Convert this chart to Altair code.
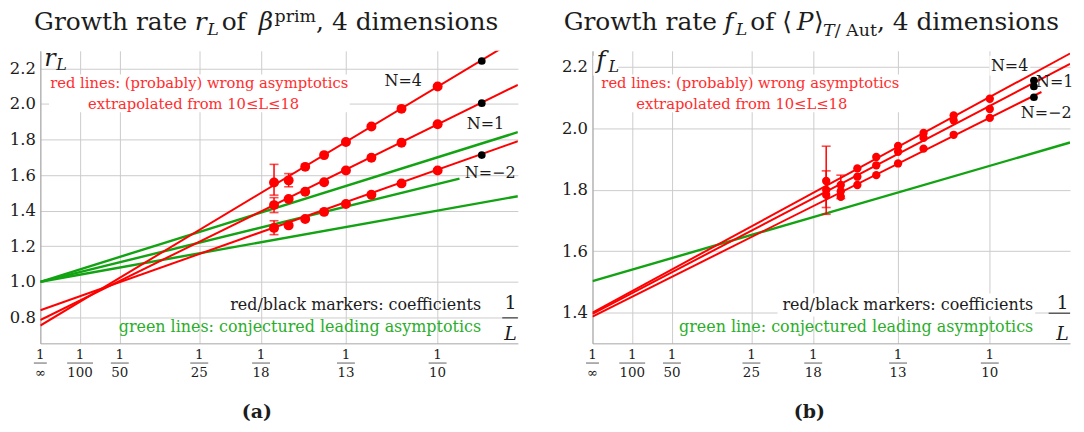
import math
import altair as alt
import pandas as pd

FONT = "DejaVu Serif"
RED = "#ff0000"
GREEN = "#12a312"
GREEN_TXT = "#2aae2a"
RED_TXT = "#ff2d2d"
INK = "#1c1c1c"
GRID = "#cccccc"
AXIS_C = "#a6a6a6"

W, H = 480, 294
X_MAX = 0.1202

# ---------------- data ----------------
TICK_L = [math.inf, 100, 50, 25, 18, 13, 10]
TICK_DEN = ["∞", "100", "50", "25", "18", "13", "10"]

L_RED = [17, 16, 15, 14, 13, 12, 11, 10]
L_BLACK = 9
SERIES = ["N=4", "N=1", "N=−2"]

# panel (a): growth rate r_L
A_N4 = [1.558, 1.570, 1.646, 1.712, 1.786, 1.873, 1.972, 2.098]
A_N1 = [1.431, 1.465, 1.506, 1.559, 1.625, 1.697, 1.782, 1.886]
A_NM2 = [1.303, 1.317, 1.353, 1.393, 1.437, 1.489, 1.553, 1.626]
A_BLACK = [2.241, 2.004, 1.712]
A_ERR_L = [17, 17, 17, 16]
A_ERR_LO = [1.487, 1.389, 1.265, 1.534]
A_ERR_HI = [1.660, 1.473, 1.343, 1.608]
A_FIT_Y0 = [0.754, 0.785, 0.840]
A_FIT_X1 = [X_MAX, X_MAX, X_MAX]
A_FIT_Y1 = [2.368, 2.107, 1.790]
A_GREEN_Y0 = [1.0, 1.0, 1.0]
A_GREEN_X1 = [X_MAX, 0.1055, X_MAX]
A_GREEN_Y1 = [1.841, 1.580, 1.481]
A_YTICKS = [0.8, 1.0, 1.2, 1.4, 1.6, 1.8, 2.0, 2.2]
A_YDOM = [0.654, 2.298]

# panel (b): growth rate f_L
B_N4 = [1.828, 1.815, 1.869, 1.906, 1.942, 1.984, 2.041, 2.095]
B_N1 = [1.799, 1.795, 1.842, 1.879, 1.923, 1.968, 2.025, 2.062]
B_NM2 = [1.783, 1.777, 1.815, 1.847, 1.885, 1.933, 1.978, 2.033]
B_BLACK = [2.154, 2.135, 2.100]
B_ERR_L = [17, 17, 16]
B_ERR_LO = [1.720, 1.742, 1.771]
B_ERR_HI = [1.941, 1.861, 1.847]
B_FIT_Y0 = [1.401, 1.397, 1.388]
B_FIT_X1 = [X_MAX, X_MAX, 0.113]
B_FIT_Y1 = [2.242, 2.208, 2.117]
B_GREEN_Y0 = [1.503]
B_GREEN_X1 = [X_MAX]
B_GREEN_Y1 = [1.953]
B_YTICKS = [1.4, 1.6, 1.8, 2.0, 2.2]
B_YDOM = [1.301, 2.2506]

# ------------- text width estimate (DejaVu Serif metrics) -------------
NORMAL_W = {' ': .318, ',': .318, '.': .318, '/': .337, '4': .636, 'G': .775, 'A': .722,
            'a': .596, 'd': .640, 'e': .592, 'f': .370, 'h': .644, 'i': .320, 'm': .948,
            'n': .644, 'o': .602, 'p': .640, 'r': .478, 's': .513, 't': .402, 'u': .644,
            'w': .856, '⟨': .30, '⟩': .36}
ITALIC_W = {'r': .50, 'L': .66, 'f': .46, 'T': .668, 'P': .70, 'β': .64}


def est_w(t, size, italic):
    table = ITALIC_W if italic else NORMAL_W
    return sum(table.get(c, .6) for c in t) * size


def ptext(t, px, py, size, color=INK, align="center", baseline="middle",
          style="normal", weight="normal"):
    return alt.Chart(pd.DataFrame({"t": [t]})).mark_text(
        font=FONT, fontSize=size, color=color, align=align, baseline=baseline,
        fontStyle=style, fontWeight=weight
    ).encode(text="t:N", x=alt.value(px), y=alt.value(py))


def prect(x0, x1, y0, y1):
    return alt.Chart(pd.DataFrame({"k": [0]})).mark_rect(color="white").encode(
        x=alt.value(x0), x2=alt.value(x1), y=alt.value(y0), y2=alt.value(y1))


def rich(pieces, center_x, base_y):
    widths = [est_w(t, s, it) + extra for t, s, it, dy, extra in pieces]
    x = center_x - sum(widths) / 2
    out = []
    for (t, s, it, dy, extra), w in zip(pieces, widths):
        out.append(ptext(t, x, base_y + dy, s, align="left", baseline="alphabetic",
                         style="italic" if it else "normal"))
        x += w
    return out


def pts_frame(series_vals):
    rows = []
    for name, vals in zip(SERIES, series_vals):
        for L, v in zip(L_RED, vals):
            rows.append({"x": 1.0 / L, "y": v, "s": name})
    return pd.DataFrame(rows)


def seg_frame(y0, x1, y1):
    rows = []
    for i, (a, b, c) in enumerate(zip(y0, x1, y1)):
        rows.append({"x": 0.0, "y": a, "s": i, "o": 0})
        rows.append({"x": b, "y": c, "s": i, "o": 1})
    return pd.DataFrame(rows)


def panel(cfg):
    X = alt.X("x:Q", scale=alt.Scale(domain=[0, X_MAX], nice=False, zero=False),
              axis=alt.Axis(values=[1.0 / v for v in TICK_L], labels=False, ticks=False,
                            title=None, grid=True, gridColor=GRID, domainColor=AXIS_C))
    Y = alt.Y("y:Q", scale=alt.Scale(domain=cfg["ydom"], nice=False, zero=False),
              axis=alt.Axis(values=cfg["yticks"], format=".1f", ticks=False, title=None,
                            grid=True, gridColor=GRID, domainColor=AXIS_C))
    layers = [prect(*r) for r in cfg["boxes"]]

    green = seg_frame(cfg["g0"], cfg["gx1"], cfg["gy1"])
    layers.append(alt.Chart(green).mark_line(color=GREEN, strokeWidth=2.4, clip=True)
                  .encode(x=X, y=Y, detail="s:N", order="o:Q"))
    fits = seg_frame(cfg["f0"], cfg["fx1"], cfg["fy1"])
    layers.append(alt.Chart(fits).mark_line(color=RED, strokeWidth=2, clip=True)
                  .encode(x=X, y=Y, detail="s:N", order="o:Q"))

    err = pd.DataFrame({"x": [1.0 / L for L in cfg["eL"]], "y": cfg["elo"], "y2": cfg["ehi"]})
    layers.append(alt.Chart(err).mark_rule(color=RED, strokeWidth=1.5)
                  .encode(x=X, y=Y, y2="y2:Q"))
    caps = pd.DataFrame({"x": [1.0 / L for L in cfg["eL"]] * 2, "y": cfg["elo"] + cfg["ehi"]})
    layers.append(alt.Chart(caps).mark_tick(color=RED, orient="horizontal", thickness=1.6, size=9)
                  .encode(x=X, y=Y))

    layers.append(alt.Chart(pts_frame(cfg["pts"])).mark_circle(color=RED, opacity=1, size=cfg["psize"])
                  .encode(x=X, y=Y, detail="s:N"))
    blk = pd.DataFrame({"x": [1.0 / L_BLACK] * 3, "y": cfg["black"], "s": SERIES})
    layers.append(alt.Chart(blk).mark_circle(color="black", opacity=1, size=60)
                  .encode(x=X, y=Y))

    # fraction tick labels 1/L
    fr = pd.DataFrame({"x": [1.0 / v for v in TICK_L], "den": TICK_DEN,
                       "barw": [13 if d == "∞" else 8 * len(d) + 2 for d in TICK_DEN],
                       "fs": [13 if d == "∞" else 13.5 for d in TICK_DEN]})
    layers.append(alt.Chart(fr).mark_text(font=FONT, fontSize=13.5, color=INK, baseline="middle")
                  .encode(x=X, y=alt.value(H + 12), text=alt.value("1")))
    layers.append(alt.Chart(fr).mark_tick(color=INK, orient="horizontal", thickness=1)
                  .encode(x=X, y=alt.value(H + 19.8), size=alt.Size("barw:Q", scale=None)))
    layers.append(alt.Chart(fr).mark_text(font=FONT, color=INK, baseline="middle")
                  .encode(x=X, y=alt.value(H + 29.5), text="den:N",
                          size=alt.Size("fs:Q", scale=None)))

    # annotations
    for t, px, py, size, color, align, style in cfg["texts"]:
        layers.append(ptext(t, px, py, size, color=color, align=align, style=style))
    layers.append(alt.Chart(pd.DataFrame({"k": [0]})).mark_rule(color=INK, strokeWidth=1)
                  .encode(x=alt.value(cfg["bar"][0]), x2=alt.value(cfg["bar"][1]),
                          y=alt.value(cfg["bar"][2])))
    layers.append(ptext(cfg["label"], cfg["label_xy"][0], cfg["label_xy"][1], 19, weight="bold"))
    layers += rich(cfg["title"], cfg["title_c"], -21.0)
    layers += [ptext(t, px, py, s, align="left", baseline="alphabetic", style="italic")
               for t, px, py, s in cfg["ylab"]]
    return alt.layer(*layers).properties(width=W, height=H)


ST, SS = 25, 17.5
TS, BS, NS = 14.8, 16, 16
cfg_a = dict(
    ydom=A_YDOM, yticks=A_YTICKS,
    boxes=[(8.7, 311, 23.7, 61.7)],
    g0=A_GREEN_Y0, gx1=A_GREEN_X1, gy1=A_GREEN_Y1,
    f0=A_FIT_Y0, fx1=A_FIT_X1, fy1=A_FIT_Y1,
    eL=A_ERR_L, elo=A_ERR_LO, ehi=A_ERR_HI,
    pts=[A_N4, A_N1, A_NM2], psize=100, black=A_BLACK,
    texts=[
        ("red lines: (probably) wrong asymptotics", 159.7, 33.4, TS, RED_TXT, "center", "normal"),
        ("extrapolated from 10≤L≤18", 154, 54, TS, RED_TXT, "center", "normal"),
        ("N=4", 364.7, 30.7, NS, INK, "center", "normal"),
        ("N=1", 447.4, 73.4, NS, INK, "center", "normal"),
        ("N=−2", 452.2, 123.3, NS, INK, "center", "normal"),
        ("red/black markers: coefficients", 443, 255, BS, INK, "right", "normal"),
        ("green lines: conjectured leading asymptotics", 443, 277.7, BS, GREEN_TXT, "right", "normal"),
        ("1", 472.5, 253.4, 19, INK, "center", "normal"),
        ("L", 472.5, 284.4, 19, INK, "center", "italic"),
    ],
    bar=(464.3, 480, 268.4),
    label="(a)", label_xy=(217.7, 363.2),
    title=[("Growth rate ", ST, False, 0, 0), ("r", ST, True, 0, 0), ("L", SS, True, 5.5, 3),
           (" of ", ST, False, 0, -3), ("β", ST, True, 0, 0), ("prim", SS, False, -8.5, 0),
           (", 4 dimensions", ST, False, 0, 0)],
    title_c=227,
    ylab=[("r", 4, 15, 24), ("L", 16, 19.5, 16)],
)

cfg_b = dict(
    ydom=B_YDOM, yticks=B_YTICKS,
    boxes=[(0.8, 26, 5, 25), (5.8, 311.6, 23.7, 61.7), (399, 440, 5, 25), (186, 445, 244, 267)],
    g0=B_GREEN_Y0, gx1=B_GREEN_X1, gy1=B_GREEN_Y1,
    f0=B_FIT_Y0, fx1=B_FIT_X1, fy1=B_FIT_Y1,
    eL=B_ERR_L, elo=B_ERR_LO, ehi=B_ERR_HI,
    pts=[B_N4, B_N1, B_NM2], psize=70, black=B_BLACK,
    texts=[
        ("red lines: (probably) wrong asymptotics", 158.7, 33.4, TS, RED_TXT, "center", "normal"),
        ("extrapolated from 10≤L≤18", 150, 54, TS, RED_TXT, "center", "normal"),
        ("N=4", 419.3, 15, NS, INK, "center", "normal"),
        ("N=1", 464.7, 31.7, NS, INK, "center", "normal"),
        ("N=−2", 456, 62.7, NS, INK, "center", "normal"),
        ("red/black markers: coefficients", 443, 255, BS, INK, "right", "normal"),
        ("green line: conjectured leading asymptotics", 443, 277.7, BS, GREEN_TXT, "right", "normal"),
        ("1", 472.5, 253.4, 19, INK, "center", "normal"),
        ("L", 472.5, 284.4, 19, INK, "center", "italic"),
    ],
    bar=(458.5, 480, 263.7),
    label="(b)", label_xy=(218, 363.2),
    title=[("Growth rate ", ST, False, 0, 0), ("f", ST, True, 0, 0), ("L", SS, True, 5.5, 3),
           (" of ⟨", ST, False, 0, -1), ("P", ST, True, 0, 0), ("⟩", ST, False, 0, 0),
           ("T", SS, True, 6.5, 0), ("/ Aut", SS, False, 6.5, 0), (", 4 dimensions", ST, False, 0, 0)],
    title_c=220,
    ylab=[("f", 4, 17, 24), ("L", 16, 21, 16)],
)

chart = alt.hconcat(panel(cfg_a), panel(cfg_b), spacing=75, bounds="flush").properties(
    padding={"left": 0.5, "top": -2, "right": 2, "bottom": 0}
).configure_view(stroke=None).configure_axis(
    labelFont=FONT, labelFontSize=16.5, labelColor=INK, labelPadding=5
)

chart.save("out.html", embed_options={"renderer": "svg", "actions": False})
